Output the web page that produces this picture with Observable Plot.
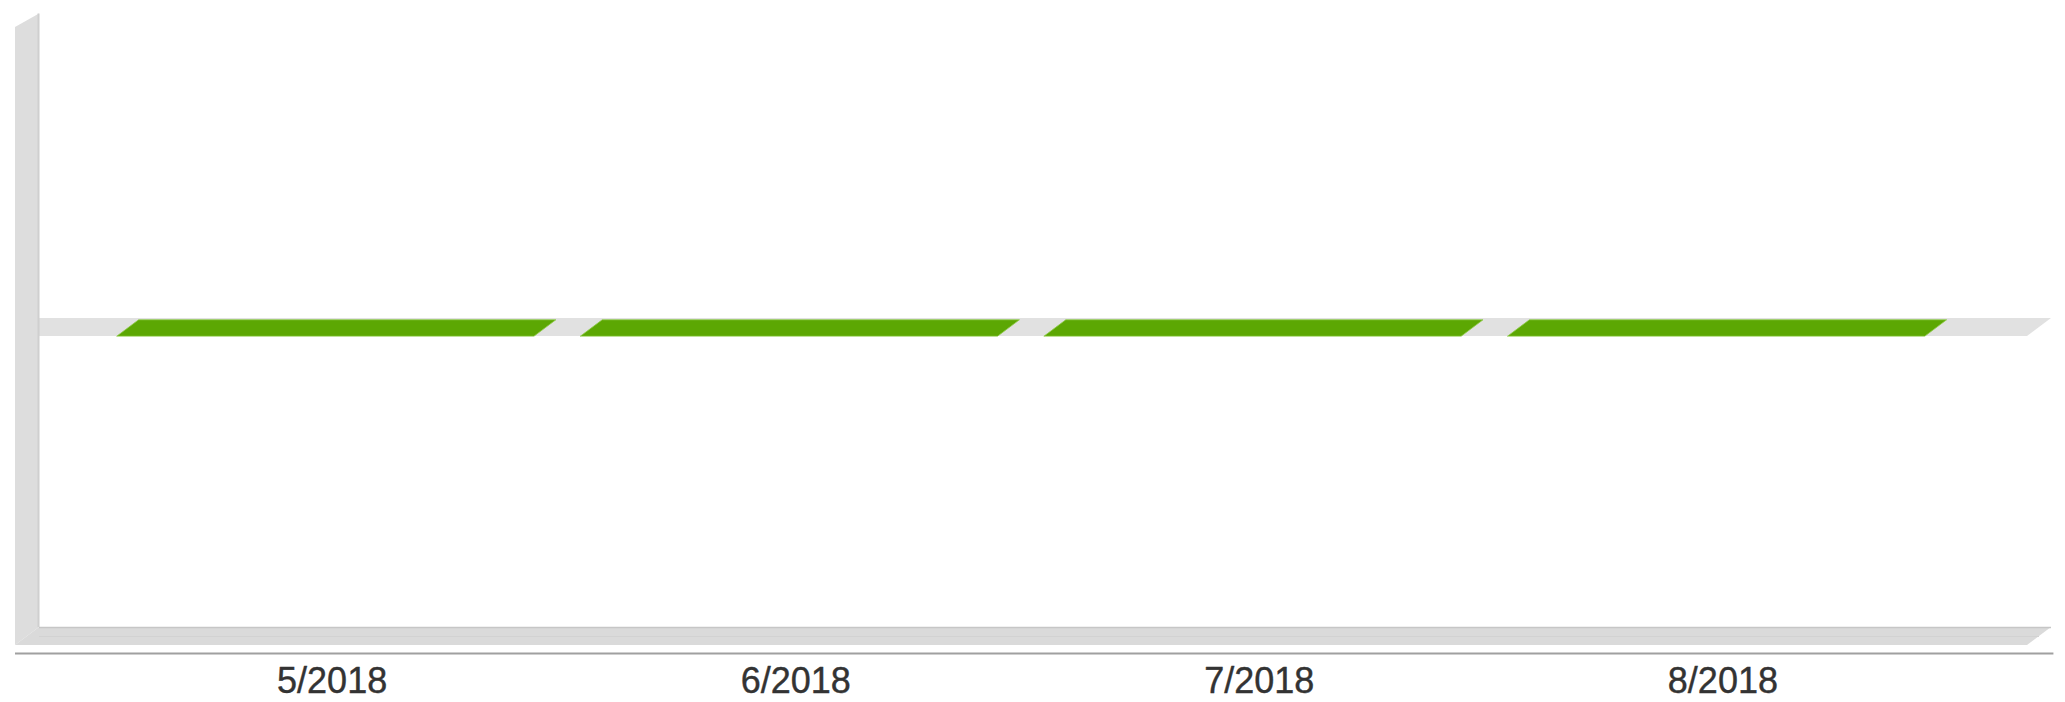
<!DOCTYPE html>
<html><head><meta charset="utf-8">
<script src="https://cdn.jsdelivr.net/npm/d3@7"></script>
<script src="https://cdn.jsdelivr.net/npm/@observablehq/plot@0.6"></script>
<style>html,body{margin:0;padding:0;background:#fff;overflow:hidden;}</style>
</head><body><div id="chart"></div>
<script>
// Data
const months = ["5/2018", "6/2018", "7/2018", "8/2018"];
const values = [0, 0, 0, 0];
const yDomain = [-1, 1];
const xDomain = [-0.67, 3.67];

// 3D look (depth offsets in data units)
const depthX = 0.0518, depthY = 0.0583;
const barHalf = 0.45;

const depthSteps = [0, 1];
const barSteps = [0, 0.9];

const barRows = months.flatMap((m, i) => barSteps.map(d => ({
  cat: m,
  y: values[i] + d * depthY,
  x1: i - barHalf + d * depthX,
  x2: i + barHalf + d * depthX
})));
const zeroRows = depthSteps.map(d => ({y: 0 + d * depthY, x1: xDomain[0] + d * depthX, x2: xDomain[1] + d * depthX}));
const floorRows = depthSteps.map(d => ({y: yDomain[0] + d * depthY, x1: xDomain[0] + d * depthX, x2: xDomain[1] + d * depthX}));
const wallRows = depthSteps.map(d => ({x: xDomain[0] + d * depthX, y1: yDomain[0] + d * depthY, y2: yDomain[1] + d * depthY * 0.75}));

const floorEdges = [
  {y: yDomain[0] + depthY, x1: xDomain[0] + depthX, x2: xDomain[1] + depthX, c: "#c6c6c6", w: 1.5},
  {y: yDomain[0] + depthY * 0.5, x1: xDomain[0] + depthX, x2: xDomain[1] + depthX * 0.5, c: "#d2d2d2", w: 1}
];
const wallEdge = [{x: xDomain[0] + depthX, y1: yDomain[0] + depthY, y2: yDomain[1] + depthY * 0.75}];
const baseLine = [{y: yDomain[0], x1: xDomain[0], x2: xDomain[1] + depthX * 1.1}];
const tickRows = months.map((m, i) => ({x: i, label: m}));

const chart = Plot.plot({
  width: 2065,
  height: 702,
  marginLeft: 15,
  marginRight: 38,
  marginTop: 27,
  marginBottom: 57,
  style: {fontFamily: "'Liberation Sans', Arial, sans-serif", background: "#fff", color: "#333"},
  x: {domain: xDomain, axis: null},
  y: {domain: yDomain, axis: null},
  marks: [
    Plot.areaX(zeroRows, {y: "y", x1: "x1", x2: "x2", fill: "#e1e1e1", curve: "linear"}),
    Plot.areaX(barRows, {y: "y", x1: "x1", x2: "x2", z: "cat", fill: "#5ca703", stroke: "#8fcb4a", strokeWidth: 0.8, curve: "linear"}),
    Plot.areaX(floorRows, {y: "y", x1: "x1", x2: "x2", fill: "#dadada", curve: "linear"}),
    Plot.ruleY(floorEdges, {y: "y", x1: "x1", x2: "x2", stroke: d => d.c, strokeWidth: d => d.w}),
    Plot.areaY(wallRows, {x: "x", y1: "y1", y2: "y2", fill: "#dddddd", curve: "linear"}),
    Plot.ruleX(wallEdge, {x: "x", y1: "y1", y2: "y2", stroke: "#cfcfcf", strokeWidth: 2, dx: -1}),
    Plot.ruleY(baseLine, {y: "y", x1: "x1", x2: "x2", dy: 8, stroke: "#a0a0a0", strokeWidth: 2}),
    Plot.text(tickRows, {
      x: "x",
      y: yDomain[0],
      text: "label",
      fontSize: 36,
      dx: 6,
      dy: 36,
      fill: "#333",
      stroke: "#333",
      strokeWidth: 0.4
    })
  ]
});
document.getElementById("chart").appendChild(chart);
</script>
</body></html>
